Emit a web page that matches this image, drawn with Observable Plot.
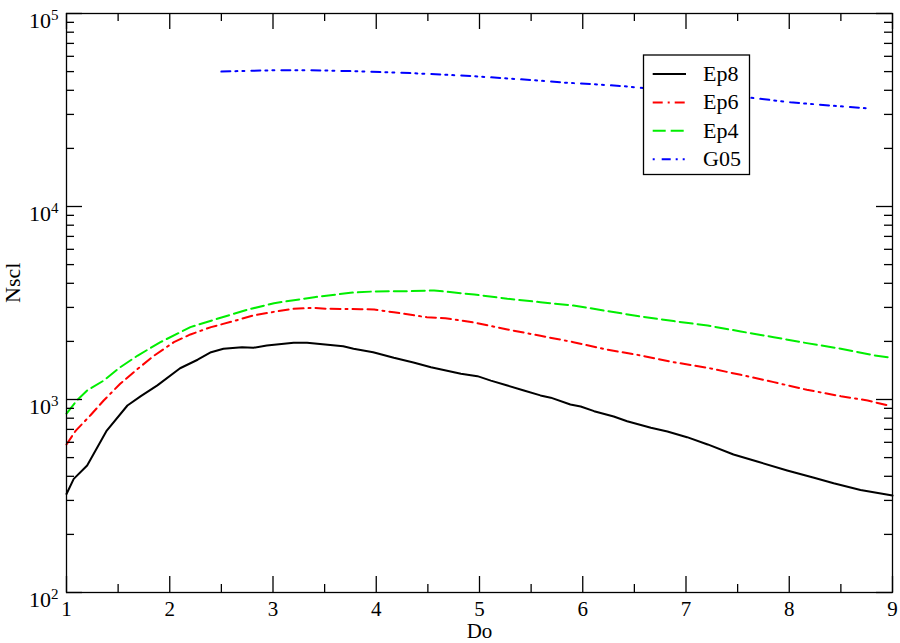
<!DOCTYPE html>
<html>
<head>
<meta charset="utf-8">
<script src="https://cdn.jsdelivr.net/npm/d3@7"></script>
<script src="https://cdn.jsdelivr.net/npm/@observablehq/plot@0.6"></script>
<style>
  html, body { margin: 0; padding: 0; background: #fff; }
  #chart svg { display: block; }
  #chart svg, #chart svg text, #chart svg tspan { font-family: "Liberation Serif", "Times New Roman", serif !important; font-variant: normal !important; }
</style>
</head>
<body>
<div id="chart"></div>
<script>
// ---- data ----
const ep8X = [1.00,1.07,1.20,1.39,1.59,1.72,1.88,2.10,2.27,2.40,2.52,2.70,2.81,2.94,3.20,3.33,3.68,3.78,3.97,4.17,4.36,4.53,4.82,4.98,5.11,5.27,5.43,5.59,5.69,5.88,5.98,6.11,6.30,6.43,6.66,6.82,7.01,7.21,7.46,7.69,7.98,8.24,8.43,8.69,9.00];
const ep8Y = [324,388,455,690,931,1041,1183,1452,1607,1759,1832,1867,1854,1905,1967,1967,1888,1831,1759,1644,1555,1470,1358,1321,1253,1182,1114,1050,1022,942,920,870,816,772,714,683,638,585,519,477,429,393,368,340,318];

const ep6X = [1.00,1.09,1.23,1.36,1.52,1.69,1.85,2.04,2.20,2.40,2.62,2.81,3.01,3.20,3.40,3.53,3.85,3.98,4.17,4.49,4.67,4.82,4.95,5.27,5.59,5.91,6.24,6.56,6.88,7.21,7.53,7.85,8.17,8.50,8.76,8.98];
const ep6Y = [585,690,826,988,1206,1442,1690,1982,2173,2372,2548,2725,2846,2950,2985,2950,2937,2926,2831,2668,2636,2564,2505,2306,2138,1982,1811,1692,1561,1459,1342,1230,1123,1040,988,925];

const ep4X = [1.00,1.10,1.20,1.36,1.52,1.69,1.91,2.20,2.46,2.75,3.01,3.40,3.75,3.98,4.33,4.56,4.82,4.95,5.27,5.59,5.91,6.24,6.56,6.88,7.21,7.53,7.85,8.17,8.50,8.82,9.00];
const ep4Y = [846,988,1114,1253,1469,1690,1982,2371,2619,2916,3156,3390,3574,3630,3642,3672,3556,3500,3325,3193,3071,2870,2693,2548,2417,2251,2104,1959,1833,1692,1644];

const g05X = [2.50,2.62,2.91,3.20,3.49,3.78,4.07,4.36,4.62,4.95,5.24,5.53,5.82,6.11,6.40,6.56,7.63,8.01,8.40,8.74];
const g05Y = [50000,50240,50700,50850,50700,50240,49640,49050,48300,47320,46200,45100,43860,43000,42000,41200,36580,34690,33340,32290];

const seriesNames = ["Ep8","Ep6","Ep4","G05"];
const seriesColors = ["#000000","#ff0000","#00ee00","#0000ff"];
const seriesDash = [null, "10,5,10,5,2,5", "13,5", "9,5,2,5,2,7"];
const legendDashOffset = [0, 15, 0, 21];

const xMajor = [1,2,3,4,5,6,7,8,9];
const xMinor = [1.5,2.5,3.5,4.5,5.5,6.5,7.5,8.5];
const yMajor = [100,1000,10000,100000];
const yMinor = [200,300,400,500,600,700,800,900,2000,3000,4000,5000,6000,7000,8000,9000,20000,30000,40000,50000,60000,70000,80000,90000];

const xLabel = "Do";
const yLabel = "Nscl";

// ---- build tables ----
const toRows = (xs, ys) => xs.map((x, i) => ({x, y: ys[i]}));
const tables = [toRows(ep8X, ep8Y), toRows(ep6X, ep6Y), toRows(ep4X, ep4Y), toRows(g05X, g05Y)];

const W = 900, H = 643;
const mL = 66, mR = 8, mT = 13, mB = 51;
const innerW = W - mL - mR, innerH = H - mT - mB;
const majorLen = 16, minorLen = 8;
const font = "'Liberation Serif', 'Times New Roman', serif";

const lineMarks = tables.map((rows, i) => Plot.line(rows, {
  x: "x", y: "y",
  stroke: seriesColors[i],
  strokeWidth: 2,
  strokeDasharray: seriesDash[i] || undefined,
  strokeLinejoin: "round",
  curve: "linear"
}));

const tickStyle = {stroke: "black", strokeWidth: 1.3};

const chart = Plot.plot({
  width: W, height: H,
  marginLeft: mL, marginRight: mR, marginTop: mT, marginBottom: mB,
  style: {fontFamily: font, fontSize: "22px", background: "white", color: "black", overflow: "visible"},
  x: {domain: [1, 9]},
  y: {type: "log", domain: [100, 100000]},
  marks: [
    ...lineMarks,
    // inward ticks, bottom/top
    Plot.ruleX(xMajor, {x: d => d, insetTop: innerH - majorLen, ...tickStyle}),
    Plot.ruleX(xMajor, {x: d => d, insetBottom: innerH - majorLen, ...tickStyle}),
    Plot.ruleX(xMinor, {x: d => d, insetTop: innerH - minorLen, ...tickStyle}),
    Plot.ruleX(xMinor, {x: d => d, insetBottom: innerH - minorLen, ...tickStyle}),
    // inward ticks, left/right
    Plot.ruleY(yMajor, {y: d => d, insetRight: innerW - majorLen, ...tickStyle}),
    Plot.ruleY(yMajor, {y: d => d, insetLeft: innerW - majorLen, ...tickStyle}),
    Plot.ruleY(yMinor, {y: d => d, insetRight: innerW - minorLen, ...tickStyle}),
    Plot.ruleY(yMinor, {y: d => d, insetLeft: innerW - minorLen, ...tickStyle}),
    Plot.frame({stroke: "black", strokeWidth: 1.3}),
    Plot.axisX(xMajor, {tickSize: 0, tickPadding: 9, tickFormat: d => String(d), label: null, fontSize: 21}),
    Plot.axisY(yMajor, {tickSize: 0, tickPadding: 8, tickFormat: d => String(Math.round(Math.log10(d))), label: null, fontSize: 22}),
    Plot.text([xLabel], {text: d => d, frameAnchor: "bottom", lineAnchor: "middle", dy: 39, fontSize: 21}),
    Plot.text([yLabel], {text: d => d, frameAnchor: "left", lineAnchor: "middle", dx: -54, rotate: -90, fontSize: 22})
  ]
});

// y tick labels as 10^n with superscript
d3.select(chart).selectAll('g[aria-label="y-axis tick label"] text').each(function() {
  const e = this.textContent;
  const t = d3.select(this);
  t.text(null);
  t.attr("dy", "0.36em");
  t.append("tspan").text("10");
  t.append("tspan").attr("font-size", 15).attr("dy", "-0.55em").text(e);
});

// legend box
const svg = d3.select(chart);
const lg = svg.append("g").attr("font-family", font).attr("font-size", 22).attr("text-anchor", "start");
lg.append("rect")
  .attr("x", 643.5).attr("y", 55).attr("width", 106).attr("height", 119.5)
  .attr("fill", "white").attr("stroke", "black").attr("stroke-width", 1.3);
seriesNames.forEach((name, i) => {
  const y = 74 + i * 28.4;
  const ln = lg.append("line")
    .attr("x1", 652.7).attr("x2", 686).attr("y1", y).attr("y2", y)
    .attr("stroke", seriesColors[i]).attr("stroke-width", 2);
  if (seriesDash[i]) ln.attr("stroke-dasharray", seriesDash[i]).attr("stroke-dashoffset", legendDashOffset[i]);
  lg.append("text").attr("x", 703).attr("y", y).attr("dy", "0.32em").attr("fill", "black").attr("text-anchor", "start").text(name);
});

document.getElementById("chart").appendChild(chart);
</script>
</body>
</html>
